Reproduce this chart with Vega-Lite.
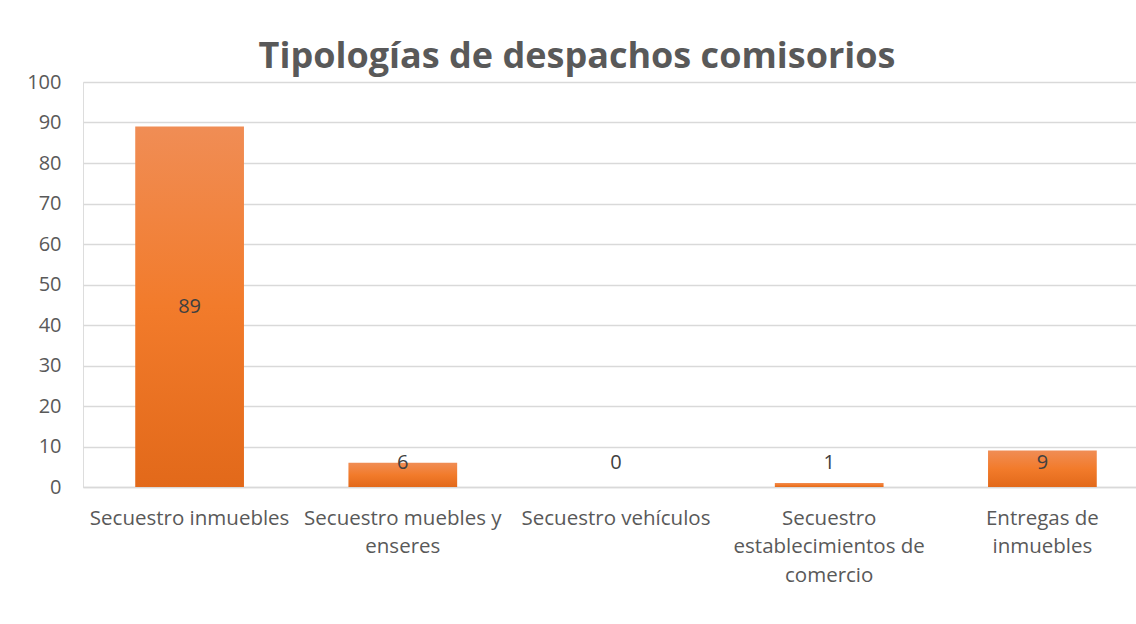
{
  "$schema": "https://vega.github.io/schema/vega-lite/v6.json",
  "autosize": "none",
  "width": 1066,
  "height": 405,
  "padding": {"left": 83, "top": 82, "right": 0, "bottom": 137},
  "background": "white",
  "title": {
    "text": "Tipologías de despachos comisorios",
    "anchor": "middle",
    "frame": "group",
    "dx": -39,
    "dy": 48,
    "offset": 16,
    "baseline": "alphabetic",
    "font": "Open Sans",
    "fontSize": 36,
    "fontWeight": "bold",
    "color": "#595959"
  },
  "data": {
    "values": [
      {"cat": "Secuestro inmuebles", "value": 89},
      {"cat": "Secuestro muebles y|enseres", "value": 6},
      {"cat": "Secuestro vehículos", "value": 0},
      {"cat": "Secuestro|establecimientos de|comercio", "value": 1},
      {"cat": "Entregas de|inmuebles", "value": 9}
    ]
  },
  "encoding": {
    "x": {
      "field": "cat",
      "type": "nominal",
      "sort": null,
      "scale": {"paddingInner": 0.49, "paddingOuter": 0.245},
      "axis": {
        "title": null,
        "labelAngle": 0,
        "labelExpr": "split(datum.label, '|')",
        "labelFont": "Open Sans",
        "labelFontSize": 20.5,
        "labelColor": "#595959",
        "labelLineHeight": 28.5,
        "labelPadding": 21,
        "ticks": false,
        "domainColor": "#d9d9d9",
        "domainWidth": 1.5,
        "labelLimit": 300
      }
    }
  },
  "layer": [
    {
      "mark": {
        "type": "bar",
        "color": {
          "gradient": "linear",
          "x1": 0, "y1": 0, "x2": 0, "y2": 1,
          "stops": [
            {"offset": 0, "color": "#F08D55"},
            {"offset": 0.5, "color": "#F27B2B"},
            {"offset": 1, "color": "#E2691A"}
          ]
        }
      },
      "encoding": {
        "y": {
          "field": "value",
          "type": "quantitative",
          "scale": {"domain": [0, 100]},
          "axis": {
            "title": null,
            "values": [0, 10, 20, 30, 40, 50, 60, 70, 80, 90, 100],
            "labelFont": "Open Sans",
            "labelFontSize": 20,
            "labelColor": "#595959",
            "labelPadding": 22,
            "ticks": false,
            "domain": false,
            "gridColor": "#d9d9d9",
            "gridWidth": 1.5
          }
        }
      }
    },
    {
      "transform": [{"filter": "datum.value > 20"}, {"calculate": "datum.value / 2", "as": "mid"}],
      "mark": {"type": "text", "font": "Open Sans", "fontSize": 20, "color": "#404040", "baseline": "middle"},
      "encoding": {
        "y": {"field": "mid", "type": "quantitative"},
        "text": {"field": "value", "type": "quantitative"}
      }
    },
    {
      "transform": [{"filter": "datum.value <= 20"}],
      "mark": {"type": "text", "font": "Open Sans", "fontSize": 20, "color": "#404040", "baseline": "middle"},
      "encoding": {
        "y": {"datum": 6, "type": "quantitative"},
        "text": {"field": "value", "type": "quantitative"}
      }
    }
  ]
}
